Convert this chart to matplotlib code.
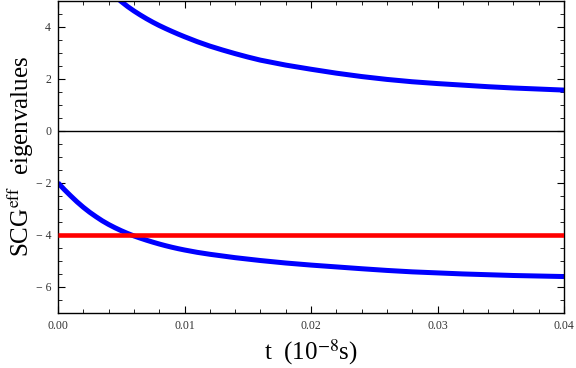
import matplotlib
matplotlib.use("Agg")
import matplotlib.pyplot as plt
from matplotlib.ticker import MultipleLocator, FixedLocator

plt.rcParams["mathtext.fontset"] = "stix"

# time values (units of 1e-8 s)
t = [0.0000, 0.0005, 0.0010, 0.0015, 0.0020, 0.0025, 0.0030, 0.0035, 0.0040,
     0.0045, 0.0050, 0.0055, 0.0060, 0.0065, 0.0070, 0.0075, 0.0080, 0.0085,
     0.0090, 0.0095, 0.0100, 0.0110, 0.0120, 0.0130, 0.0140, 0.0150, 0.0160,
     0.0180, 0.0200, 0.0220, 0.0240, 0.0260, 0.0280, 0.0300, 0.0320, 0.0340,
     0.0360, 0.0380, 0.0400]

upper_eig = [8.5, 8.0, 7.5, 7.1, 6.7, 6.35, 6.0, 5.69, 5.40,
             5.17, 4.96, 4.77, 4.60, 4.445, 4.30, 4.165, 4.04, 3.925,
             3.815, 3.71, 3.61, 3.42, 3.25, 3.10, 2.96, 2.83, 2.71,
             2.52, 2.36, 2.21, 2.08, 1.97, 1.88, 1.81, 1.75, 1.69,
             1.64, 1.60, 1.56]

lower_eig = [-2.0, -2.26, -2.50, -2.73, -2.94, -3.13, -3.30, -3.46, -3.60,
             -3.725, -3.84, -3.945, -4.04, -4.125, -4.205, -4.28, -4.35, -4.415,
             -4.475, -4.53, -4.58, -4.67, -4.745, -4.81, -4.875, -4.93, -4.985,
             -5.08, -5.16, -5.23, -5.30, -5.365, -5.42, -5.46, -5.50, -5.53,
             -5.56, -5.58, -5.60]

const_level = -4.0

xticks = [0.00, 0.01, 0.02, 0.03, 0.04]
xtick_labels = ["0.00", "0.01", "0.02", "0.03", "0.04"]
yticks = [-6, -4, -2, 0, 2, 4]
ytick_labels = ["\u2212 6", "\u2212 4", "\u2212 2", "0", "2", "4"]

serif = ["Liberation Serif", "DejaVu Serif"]

fig = plt.figure(figsize=(5.76, 3.68), dpi=100)
ax = fig.add_axes([58 / 576, 1 - 313 / 368, (564 - 58) / 576, 312.5 / 368])

ax.axhline(0, color="black", lw=1.0, zorder=1)
ax.plot(t, upper_eig, color="#0000ff", lw=3.6, zorder=2, solid_capstyle="butt",
        solid_joinstyle="round")
ax.plot(t, lower_eig, color="#0000ff", lw=3.6, zorder=2, solid_capstyle="butt",
        solid_joinstyle="round")
ax.plot([t[0], t[-1]], [const_level, const_level], color="#ff0000", lw=3.3,
        zorder=3, solid_capstyle="butt")

ax.set_xlim(0, 0.04)
ax.set_ylim(-7, 5)

ax.xaxis.set_major_locator(FixedLocator(xticks))
ax.set_xticklabels(xtick_labels)
ax.xaxis.set_minor_locator(MultipleLocator(0.002))
ax.yaxis.set_major_locator(FixedLocator(yticks))
ax.set_yticklabels(ytick_labels)
ax.yaxis.set_minor_locator(MultipleLocator(0.5))

ax.tick_params(which="both", direction="in", top=True, right=True,
               labelsize=8.5, colors="black", pad=5)
ax.tick_params(which="major", length=5, width=0.8)
ax.tick_params(which="minor", length=3, width=0.6)
for lab in ax.get_xticklabels() + ax.get_yticklabels():
    lab.set_family(serif)
    lab.set_color("#333333")

for s in ax.spines.values():
    s.set_linewidth(1.0)

fig.text(311 / 576, 1 - 352 / 368, r"t  (10$^{-8}$s)", fontsize=18,
         family=serif, ha="center", va="center")
fig.text(21 / 576, 1 - 156 / 368, r"SCG$^{\mathrm{eff}}$  eigenvalues",
         fontsize=18, family=serif, ha="center", va="center", rotation=90)

fig.savefig("out.png", dpi=100)
